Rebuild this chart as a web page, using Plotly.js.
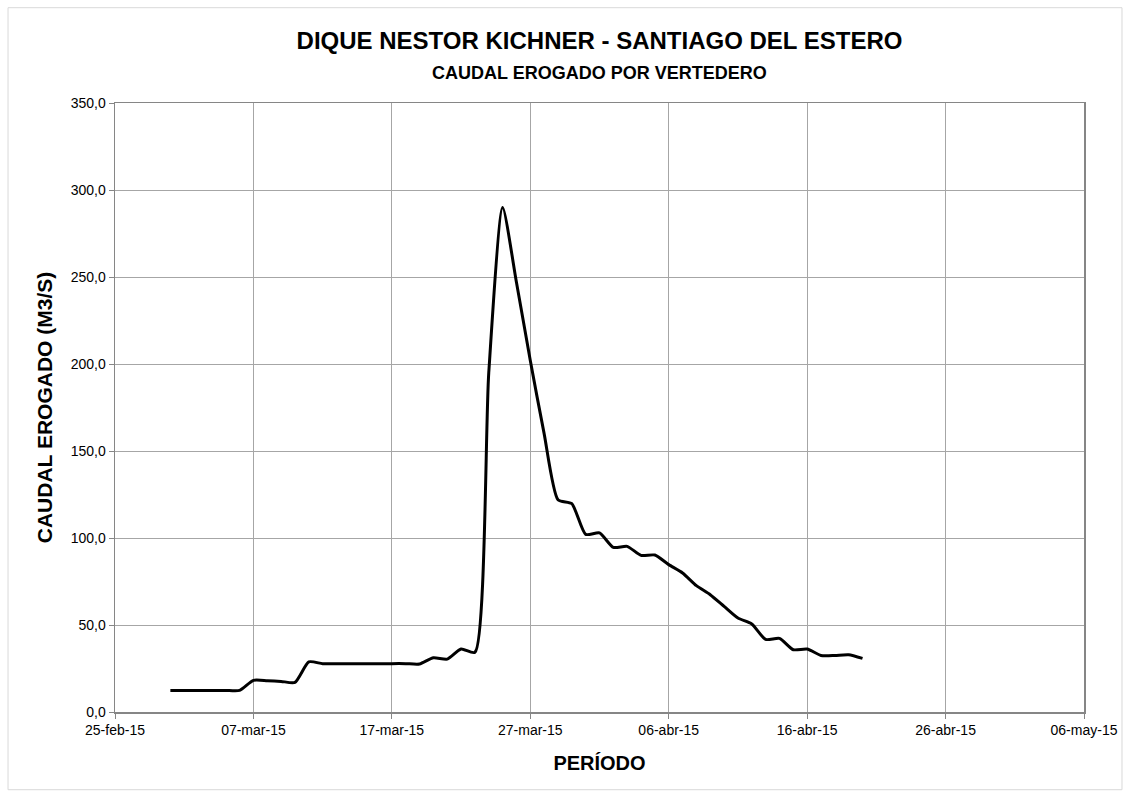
<!DOCTYPE html>
<html>
<head>
<meta charset="utf-8">
<script src="https://cdn.plot.ly/plotly-3.0.1.min.js"></script>
<style>html,body{margin:0;padding:0;background:#fff;}#chart{width:1131px;height:798px;}</style>
</head>
<body>
<div id="chart"></div>
<script>
const fechas = [
  '2015-03-01','2015-03-02','2015-03-03','2015-03-04','2015-03-05','2015-03-06',
  '2015-03-07','2015-03-08','2015-03-09','2015-03-10','2015-03-11','2015-03-12',
  '2015-03-13','2015-03-14','2015-03-15','2015-03-16','2015-03-17','2015-03-18',
  '2015-03-19','2015-03-20','2015-03-21','2015-03-22','2015-03-23','2015-03-24',
  '2015-03-25','2015-03-26','2015-03-27','2015-03-28','2015-03-29','2015-03-30',
  '2015-03-31','2015-04-01','2015-04-02','2015-04-03','2015-04-04','2015-04-05',
  '2015-04-06','2015-04-07','2015-04-08','2015-04-09','2015-04-10','2015-04-11',
  '2015-04-12','2015-04-13','2015-04-14','2015-04-15','2015-04-16','2015-04-17',
  '2015-04-18','2015-04-19','2015-04-20'
];
const caudal = [
  12.4, 12.4, 12.4, 12.4, 12.4, 12.4,
  18.2, 18.0, 17.6, 17.0, 28.8, 27.8,
  27.8, 27.8, 27.8, 27.8, 27.8, 27.8,
  27.6, 31.2, 30.4, 36.2, 34.3, 195.0,
  290.0, 247.0, 202.0, 160.0, 122.0, 119.7,
  102.1, 102.9, 94.6, 95.2, 90.0, 90.2,
  84.7, 79.9, 72.6, 67.4, 60.7, 54.0,
  50.6, 41.7, 42.3, 35.8, 36.2, 32.5,
  32.5, 32.9, 30.8
];
const tickFechas = ['2015-02-25','2015-03-07','2015-03-17','2015-03-27','2015-04-06','2015-04-16','2015-04-26','2015-05-06'];
const tickTextos = ['25-feb-15','07-mar-15','17-mar-15','27-mar-15','06-abr-15','16-abr-15','26-abr-15','06-may-15'];
const yTicks = [0, 50, 100, 150, 200, 250, 300, 350];

const FONT = 'Liberation Sans, Arial, sans-serif';

const trace = {
  x: fechas, y: caudal, type: 'scatter', mode: 'lines',
  line: {color: '#000000', width: 3, shape: 'spline', smoothing: 0.6},
  hoverinfo: 'x+y'
};

const layout = {
  width: 1131, height: 798,
  margin: {l: 115, r: 47, t: 103, b: 86},
  paper_bgcolor: '#ffffff', plot_bgcolor: '#ffffff',
  separators: ',.',
  showlegend: false,
  font: {family: FONT, color: '#000000', size: 13},
  xaxis: {
    type: 'date',
    range: ['2015-02-25', '2015-05-06'],
    tickvals: tickFechas, ticktext: tickTextos,
    showgrid: true, gridcolor: '#a6a6a6', gridwidth: 1,
    showline: true, linecolor: '#868686', linewidth: 1.5, mirror: true,
    ticks: 'outside', ticklen: 5, tickcolor: '#868686',
    tickfont: {family: FONT, size: 14, color: '#000'},
    zeroline: false,
    title: {text: '<b>PERÍODO</b>', font: {family: FONT, size: 20, color: '#000'}, standoff: 18}
  },
  yaxis: {
    range: [0, 350],
    tickvals: yTicks, tickformat: '.1f',
    showgrid: true, gridcolor: '#a6a6a6', gridwidth: 1,
    showline: true, linecolor: '#868686', linewidth: 1.5, mirror: true,
    ticks: 'outside', ticklen: 5, tickcolor: '#868686',
    tickfont: {family: FONT, size: 14, color: '#000'},
    zeroline: false,
    title: {text: '<b>CAUDAL EROGADO (M3/S)</b>', font: {family: FONT, size: 21, color: '#000'}, standoff: 12}
  },
  title: {
    text: '<b>DIQUE NESTOR KICHNER - SANTIAGO DEL ESTERO</b>',
    font: {family: FONT, size: 24, color: '#000'},
    x: 0.5, xref: 'paper', y: 0.949, yref: 'container', yanchor: 'middle'
  },
  annotations: [{
    text: '<b>CAUDAL EROGADO POR VERTEDERO</b>',
    xref: 'paper', yref: 'paper', x: 0.5, y: (712.3 - 73) / 609,
    showarrow: false, font: {family: FONT, size: 18, color: '#000'},
    xanchor: 'center', yanchor: 'middle'
  }],
  shapes: [{
    type: 'rect', xref: 'paper', yref: 'paper',
    x0: -0.1104, x1: 1.0392, y0: -0.1276, y1: 1.1565,
    line: {color: '#d9d9d9', width: 1}, fillcolor: 'rgba(0,0,0,0)', layer: 'below'
  }]
};

Plotly.newPlot('chart', [trace], layout, {displayModeBar: false, staticPlot: true});
</script>
</body>
</html>
